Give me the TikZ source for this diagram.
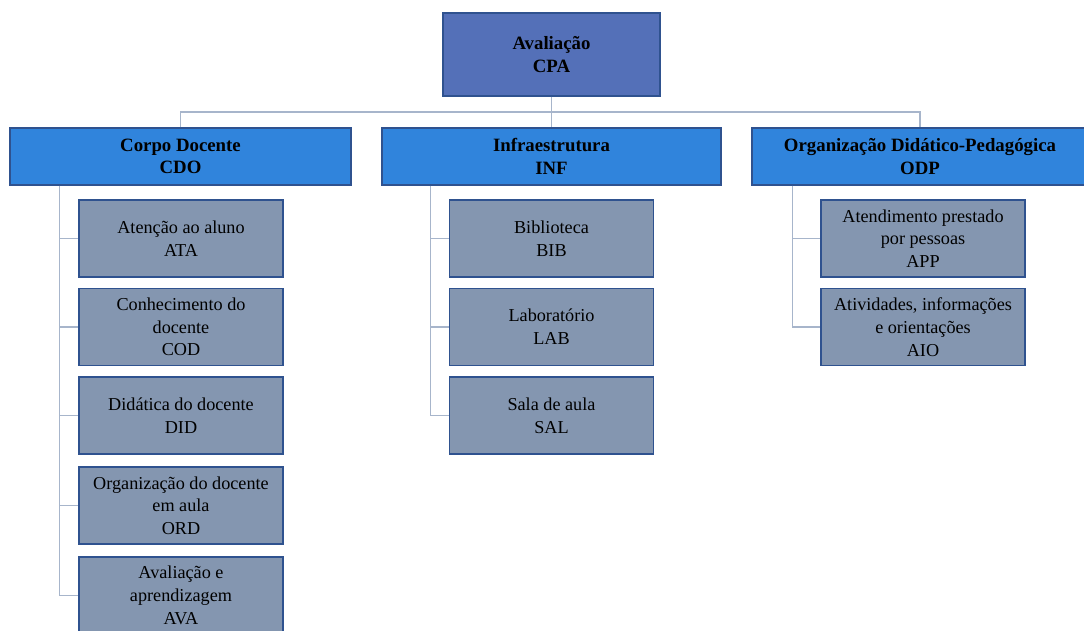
\documentclass[tikz,border=0pt]{standalone}
\usepackage{fontspec}
\setmainfont{Liberation Serif}
\usetikzlibrary{calc}
\definecolor{topfill}{HTML}{5470B8}
\definecolor{midfill}{HTML}{3084DC}
\definecolor{childfill}{HTML}{8496B0}
\definecolor{boxline}{HTML}{2F528F}
\definecolor{connline}{HTML}{A7B5CB}
\tikzset{
  topbox/.style={draw=boxline, line width=1.1pt, fill=topfill, minimum width=217pt, minimum height=83pt,
    align=center, inner sep=2pt, font=\fontsize{18.8}{22.7}\selectfont\bfseries},
  midbox/.style={draw=boxline, line width=1.1pt, fill=midfill, minimum height=57pt,
    align=center, inner sep=2pt, font=\fontsize{18.8}{22.7}\selectfont\bfseries},
  childbox/.style={draw=boxline, line width=1.1pt, fill=childfill, minimum width=204pt, minimum height=77pt,
    align=center, inner sep=2pt, font=\fontsize{18.2}{22.7}\selectfont},
  conn/.style={draw=connline, line width=1.6pt}
}
\begin{document}
\begin{tikzpicture}[x=1pt,y=-1pt]
\useasboundingbox (0,0) rectangle (1084,631);
\fill[white] (0,0) rectangle (1084,631);

\node[topbox] (cpa) at (551.5,54.5) {Avaliação\\CPA};

\node[midbox, minimum width=341pt] (cdo) at (180.5,156.5) {Corpo Docente\\CDO};
\node[midbox, minimum width=339pt] (inf) at (551.5,156.5) {Infraestrutura\\INF};
\node[midbox, minimum width=336pt] (odp) at (920,156.5) {Organização Didático-Pedagógica\\ODP};

% CDO children
\node[childbox] (ata) at (181,238.5) {Atenção ao aluno\\ATA};
\node[childbox] (cod) at (181,327) {Conhecimento do\\docente\\COD};
\node[childbox] (did) at (181,415.5) {Didática do docente\\DID};
\node[childbox] (ord) at (181,505.5) {Organização do docente\\em aula\\ORD};
\node[childbox] (ava) at (181,595.5) {Avaliação e\\aprendizagem\\AVA};

% INF children
\node[childbox] (bib) at (551.5,238.5) {Biblioteca\\BIB};
\node[childbox] (lab) at (551.5,327) {Laboratório\\LAB};
\node[childbox] (sal) at (551.5,415.5) {Sala de aula\\SAL};

% ODP children
\node[childbox] (app) at (923,238.5) {Atendimento prestado\\por pessoas\\APP};
\node[childbox] (aio) at (923,327) {Atividades, informações\\e orientações\\AIO};

% top connectors
\coordinate (bus) at (551.5,112);
\draw[conn] (cpa.south) -- (bus);
\draw[conn] (cdo.north) |- (bus) -| (odp.north);
\draw[conn] (bus) -- (inf.north);

% CDO branch
\coordinate (cdoT) at ($(cdo.south west)+(50,0)$);
\draw[conn] (cdoT) |- (ava.west);
\foreach \c in {ata,cod,did,ord}{\draw[conn] (cdoT |- \c.west) -- (\c.west);}

% INF branch
\coordinate (infT) at ($(inf.south west)+(49,0)$);
\draw[conn] (infT) |- (sal.west);
\foreach \c in {bib,lab}{\draw[conn] (infT |- \c.west) -- (\c.west);}

% ODP branch
\coordinate (odpT) at ($(odp.south west)+(41,0)$);
\draw[conn] (odpT) |- (aio.west);
\draw[conn] (odpT |- app.west) -- (app.west);
\end{tikzpicture}
\end{document}
